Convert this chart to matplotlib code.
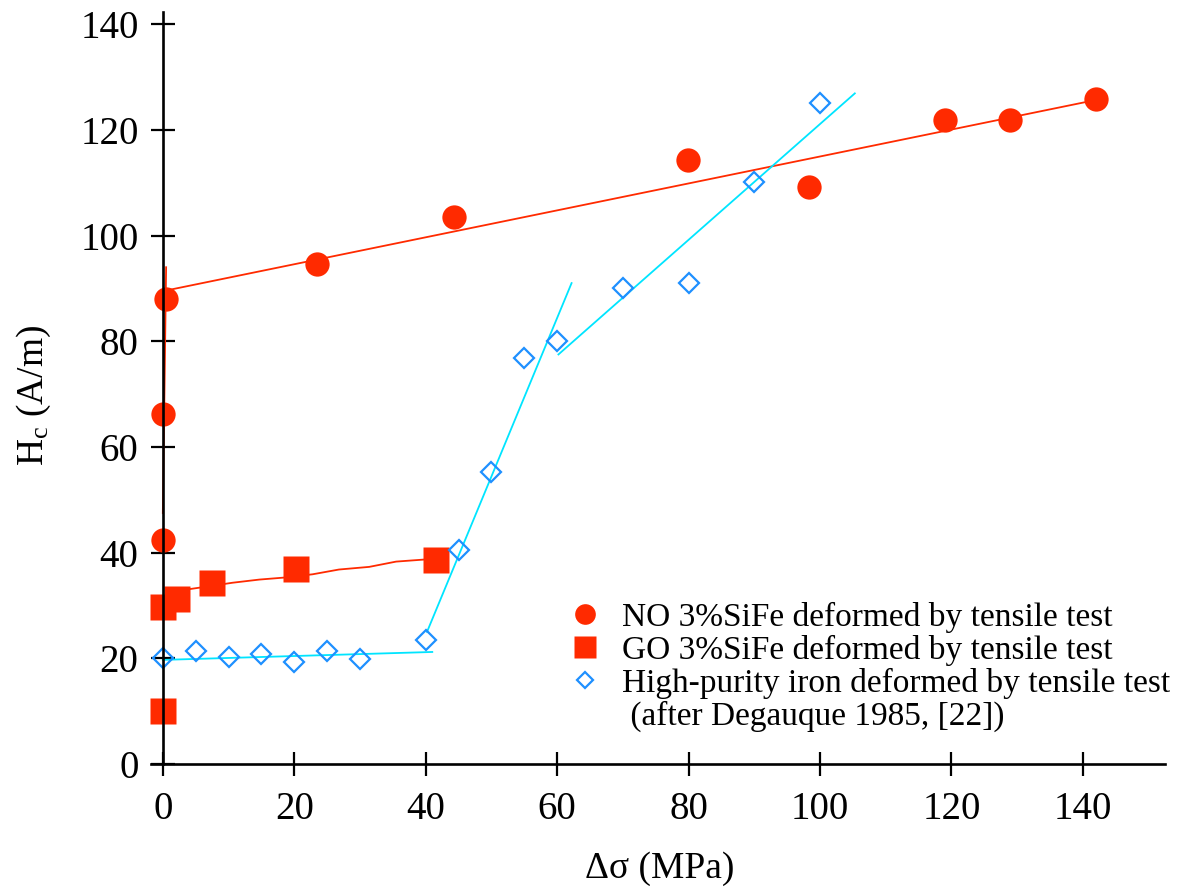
import matplotlib
matplotlib.use("Agg")
import matplotlib.pyplot as plt
from matplotlib.lines import Line2D

plt.rcParams["font.family"] = "serif"
plt.rcParams["font.serif"] = ["Liberation Serif", "DejaVu Serif"]
plt.rcParams["mathtext.fontset"] = "custom"
plt.rcParams["mathtext.rm"] = "Liberation Serif"
plt.rcParams["mathtext.it"] = "Liberation Serif:italic"

# NO 3%SiFe, tensile test (circles)
no_x = [0, 0, 0.5, 23.5, 44.3, 79.9, 98.4, 119.0, 128.9, 142.0]
no_y = [42.4, 66.2, 87.9, 94.6, 103.5, 114.2, 109.1, 121.8, 121.8, 125.8]
# GO 3%SiFe, tensile test (squares)
go_x = [0, 0, 2.2, 7.5, 20.2, 41.5]
go_y = [10.0, 29.8, 31.2, 34.2, 36.9, 38.6]
# high-purity iron (diamonds)
fe_x = [0, 5, 10, 15, 20, 25, 30, 40, 45, 50, 55, 60, 70, 80, 90, 100]
fe_y = [20.0, 21.3, 20.3, 20.8, 19.3, 21.3, 19.8, 23.4, 40.5, 55.2, 76.8,
        80.0, 90.1, 91.1, 110.2, 125.0]

# trend lines drawn in the original
no_fit_x = [0.5, 140.2]
no_fit_y = [89.6, 125.2]
no_steep_x = [0, 0.5]
no_steep_y = [47.5, 94.0]
go_fit_x = [2.2, 4.1, 7.4, 10.6, 14.7, 18.7, 22.8, 26.8, 31.4, 35.5, 41.0]
go_fit_y = [32.8, 33.1, 33.7, 34.3, 34.9, 35.3, 35.9, 36.8, 37.3, 38.3, 38.8]
fe_fit1_x = [0, 41.0]
fe_fit1_y = [19.7, 21.2]
fe_fit2_x = [40.2, 62.2]
fe_fit2_y = [25.0, 91.0]
fe_fit3_x = [60.2, 105.3]
fe_fit3_y = [77.5, 126.9]

labels = ["NO 3%SiFe deformed by tensile test",
          "GO 3%SiFe deformed by tensile test",
          "High-purity iron deformed by tensile test",
          " (after Degauque 1985, [22])"]

red = "#ff2a00"
blue = "#1e90ff"
cyan = "#00e5ff"

fig = plt.figure(figsize=(11.85, 8.93), dpi=100)
ax = fig.add_axes([151/1185, 129/893, 1014/1185, 752/893])

ax.plot(no_fit_x, no_fit_y, color=red, lw=1.3)
ax.plot(no_steep_x, no_steep_y, color=red, lw=1.3)
ax.plot(go_fit_x, go_fit_y, color=red, lw=1.3)
ax.plot(fe_fit1_x, fe_fit1_y, color=cyan, lw=1.3)
ax.plot(fe_fit2_x, fe_fit2_y, color=cyan, lw=1.3)
ax.plot(fe_fit3_x, fe_fit3_y, color=cyan, lw=1.3)

h1, = ax.plot(no_x, no_y, "o", ms=17.5, color=red, mec="none", clip_on=False)
h2, = ax.plot(go_x, go_y, "s", ms=18.5, color=red, mec="none", clip_on=False)
h3, = ax.plot(fe_x, fe_y, "D", ms=10, mfc="none", mec=blue, mew=1.6, clip_on=False)
h4 = Line2D([], [], linestyle="none")

ax.set_xlim(-1.8, 152.5)
ax.set_ylim(0, 142.3)
ax.spines["top"].set_visible(False)
ax.spines["right"].set_visible(False)
ax.spines["left"].set_position(("data", 0))
for s in ["left", "bottom"]:
    ax.spines[s].set_linewidth(1.9)
ax.set_xticks(range(0, 141, 20))
ax.set_yticks(range(0, 141, 20))
ax.tick_params(direction="inout", length=17, width=1.6, labelsize=28)
ax.tick_params(axis="x", pad=11)
ax.tick_params(axis="y", pad=9)

ax.set_xlabel("\u0394\u03c3 (MPa)", fontsize=27)
ax.set_ylabel("H$_{\\rm c}$ (A/m)", fontsize=27)
ax.xaxis.set_label_coords(0.502, -0.116)
ax.yaxis.set_label_coords(-0.097, 0.49)

ax.legend([h1, h2, h3, h4], labels, loc="upper left",
          bbox_to_anchor=(0.4115, 0.216), frameon=False, fontsize=24,
          borderpad=0, borderaxespad=0, handlelength=1.0, handletextpad=0.62,
          labelspacing=0.06, markerscale=0.85)

fig.savefig("out.png", dpi=100)
